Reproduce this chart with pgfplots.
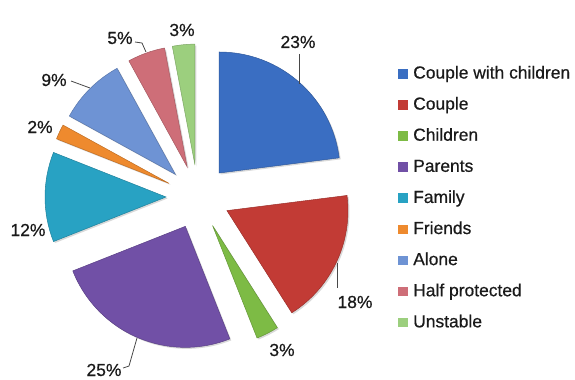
\documentclass[border=0pt]{standalone}
\usepackage{pgfplots}
\pgfplotsset{compat=1.18}
\usepackage{pgfplotstable}
\usepackage{fontspec}
\setmainfont{Liberation Sans}[FakeBold=0.6]
\usetikzlibrary{calc,shadows}

\definecolor{cA}{HTML}{3A6EC2}
\definecolor{cB}{HTML}{C23B35}
\definecolor{cC}{HTML}{7DBB45}
\definecolor{cD}{HTML}{7150A6}
\definecolor{cE}{HTML}{28A2C3}
\definecolor{cF}{HTML}{EE8A2E}
\definecolor{cG}{HTML}{6E93D4}
\definecolor{cH}{HTML}{CE6E78}
\definecolor{cI}{HTML}{9CCF7E}
\definecolor{txt}{HTML}{1A1A1A}

% share (%) of each group, clockwise from 12 o'clock
\pgfplotstableread{
value col
23 cA
18 cB
3  cC
25 cD
12 cE
2  cF
9  cG
5  cH
3  cI
}\piedata

\newcommand{\lblfont}{\fontsize{17.5}{20}\selectfont}

\begin{document}
\begin{tikzpicture}
\begin{axis}[
  x=1bp, y=1bp,
  xmin=0, xmax=575, ymin=0, ymax=378,
  hide axis, clip=false,
  legend cell align=left,
  legend image code/.code={\fill[#1] (0bp,-4.5bp) rectangle (9.5bp,5bp);},
  legend style={draw=none, fill=none, at={(0.6922,0.8272)}, anchor=north west,
    inner sep=0pt, row sep=14.1bp, column sep=5.5bp, font=\lblfont, text=txt,
    nodes={inner sep=0pt, text height=13bp, text depth=4bp}},
]
\addlegendimage{fill=cA, draw=none}\addlegendentry{Couple with children}
\addlegendimage{fill=cB, draw=none}\addlegendentry{Couple}
\addlegendimage{fill=cC, draw=none}\addlegendentry{Children}
\addlegendimage{fill=cD, draw=none}\addlegendentry{Parents}
\addlegendimage{fill=cE, draw=none}\addlegendentry{Family}
\addlegendimage{fill=cF, draw=none}\addlegendentry{Friends}
\addlegendimage{fill=cG, draw=none}\addlegendentry{Alone}
\addlegendimage{fill=cH, draw=none}\addlegendentry{Half protected}
\addlegendimage{fill=cI, draw=none}\addlegendentry{Unstable}

\pgfplotsextra{
  \path (axis cs:0,0) rectangle (axis cs:575,378);
  \gdef\cum{0}
  \foreach \i in {0,...,8}{
    \pgfplotstablegetelem{\i}{value}\of\piedata \let\v\pgfplotsretval
    \pgfplotstablegetelem{\i}{col}\of\piedata \let\col\pgfplotsretval
    \colorlet{slicecol}{\col}
    \pgfmathsetmacro\a{90-3.6*\cum}
    \pgfmathsetmacro\b{90-3.6*(\cum+\v)}
    \pgfmathsetmacro\m{(\a+\b)/2}
    \path[fill=slicecol, draw=slicecol!80!black, line width=0.5bp,
      drop shadow={opacity=0.3, shadow xshift=1.5bp, shadow yshift=-1.5bp}]
      ($(axis cs:198,181)+(\m:32bp)$) -- ++(\a:121bp)
      arc[start angle=\a, end angle=\b, radius=121bp] -- cycle;
    \pgfmathsetmacro\newcum{\cum+\v}
    \xdef\cum{\newcum}
  }
  % leader lines
  \draw[txt!80, line width=0.8bp] (axis cs:299,324) -- (axis cs:299,294);
  \draw[txt!80, line width=0.8bp] (axis cs:337,115) -- (axis cs:337,90);
  \draw[txt!80, line width=0.8bp] (axis cs:123,10) -- (axis cs:129,12) -- (axis cs:137,40);
  \draw[txt!80, line width=0.8bp] (axis cs:71,297) -- (axis cs:90,290);
  \draw[txt!80, line width=0.8bp] (axis cs:135,336) -- (axis cs:142,335) -- (axis cs:146,326);
  % labels
  \node[font=\lblfont, text=txt] at (axis cs:298,336) {23\%};
  \node[font=\lblfont, text=txt] at (axis cs:355,76) {18\%};
  \node[font=\lblfont, text=txt] at (axis cs:282,28) {3\%};
  \node[font=\lblfont, text=txt] at (axis cs:104,8) {25\%};
  \node[font=\lblfont, text=txt] at (axis cs:28,148) {12\%};
  \node[font=\lblfont, text=txt] at (axis cs:40,251) {2\%};
  \node[font=\lblfont, text=txt] at (axis cs:54,298) {9\%};
  \node[font=\lblfont, text=txt] at (axis cs:120,340) {5\%};
  \node[font=\lblfont, text=txt] at (axis cs:182,348) {3\%};
}
\end{axis}
\end{tikzpicture}
\end{document}
